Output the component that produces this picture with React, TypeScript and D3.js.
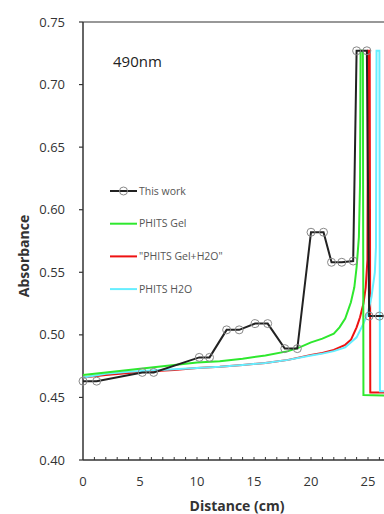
import React from 'react';
import * as d3 from 'd3';

// measured data ("This work")
const workX = [0, 1.2, 5.2, 6.2, 10.2, 11.1, 12.6, 13.7, 15.1, 16.2, 17.7, 18.8, 20.0, 21.1, 21.8, 22.7, 23.7, 24.0, 24.9, 25.1, 26.0, 27.0];
const workY = [0.463, 0.463, 0.470, 0.470, 0.482, 0.482, 0.504, 0.504, 0.509, 0.509, 0.489, 0.489, 0.582, 0.582, 0.558, 0.558, 0.559, 0.727, 0.727, 0.515, 0.515, 0.515];

// PHITS Gel
const gelX = [0, 2, 4, 6, 8, 10, 12, 14, 16, 18, 19, 20, 21, 22, 22.5, 23, 23.5, 23.8, 24.0, 24.2, 24.3, 24.35, 24.55, 24.6, 29];
const gelY = [0.468, 0.470, 0.472, 0.474, 0.476, 0.478, 0.479, 0.481, 0.4835, 0.487, 0.490, 0.494, 0.497, 0.501, 0.506, 0.513, 0.526, 0.538, 0.554, 0.578, 0.62, 0.727, 0.727, 0.452, 0.451];

// "PHITS Gel+H2O"
const gelWaterX = [0, 2, 4, 6, 8, 10, 12, 14, 16, 18, 20, 21, 22, 23, 23.5, 24, 24.3, 24.6, 24.8, 24.95, 25.0, 25.15, 25.2, 29];
const gelWaterY = [0.466, 0.468, 0.4695, 0.471, 0.472, 0.4735, 0.4745, 0.476, 0.4775, 0.480, 0.484, 0.4855, 0.488, 0.492, 0.496, 0.506, 0.514, 0.525, 0.538, 0.56, 0.727, 0.727, 0.454, 0.454];

// PHITS H2O
const waterX = [0, 2, 4, 6, 8, 10, 12, 14, 16, 18, 20, 21, 22, 23, 24, 24.6, 25.0, 25.3, 25.6, 25.7, 25.75, 26.0, 26.05, 29];
const waterY = [0.466, 0.469, 0.4705, 0.4715, 0.4725, 0.4735, 0.4745, 0.476, 0.4775, 0.480, 0.4835, 0.485, 0.487, 0.490, 0.498, 0.509, 0.518, 0.530, 0.550, 0.570, 0.727, 0.727, 0.455, 0.455];

const yTicks = [0.40, 0.45, 0.50, 0.55, 0.60, 0.65, 0.70, 0.75];
const xTicks = [0, 5, 10, 15, 20, 25];
const legendNames = ['This work', 'PHITS Gel', '"PHITS Gel+H2O"', 'PHITS H2O'];
const legendColors = ['#222', '#2ee82e', '#ee1111', '#66eeff'];

const zip = (xs: number[], ys: number[]) => xs.map((x, i) => [x, ys[i]] as [number, number]);

export default function App() {
    const width = 384, height = 514;
    const x = d3.scaleLinear().domain([0, 30]).range([83, 425]);
    const y = d3.scaleLinear().domain([0.40, 0.75]).range([460, 22]);

    const line = d3.line<[number, number]>()
        .x(d => x(d[0]))
        .y(d => y(d[1]));

    const work = zip(workX, workY);
    const font = '"Open Sans", "Noto Sans", sans-serif';

    return (
        <svg width={width} height={height} style={{position: 'absolute', left: 0, top: 0, background: '#fff'}}
             fontFamily={font}>
            {/* frame */}
            <line x1={x(0)} x2={width} y1={y(0.75)} y2={y(0.75)} stroke="#333" strokeWidth={1.2}/>
            <line x1={x(0)} x2={x(0)} y1={y(0.75)} y2={y(0.40)} stroke="#333" strokeWidth={1.5}/>
            <line x1={x(0)} x2={width} y1={y(0.40)} y2={y(0.40)} stroke="#333" strokeWidth={1.5}/>

            {/* y ticks */}
            {yTicks.map(t => (
                <g key={t}>
                    <line x1={x(0) - 4} x2={x(0)} y1={y(t)} y2={y(t)} stroke="#333" strokeWidth={1.2}/>
                    <text x={65} y={y(t)} dy="0.35em" textAnchor="end" fontSize={13} fill="#333">{t.toFixed(2)}</text>
                </g>
            ))}

            {/* x minor ticks */}
            {d3.range(1, 28).map(t => (
                <line key={t} x1={x(t)} x2={x(t)} y1={y(0.40)} y2={y(0.40) - 3} stroke="#333" strokeWidth={1}/>
            ))}
            {xTicks.map(t => (
                <text key={t} x={x(t)} y={481} dy="0.35em" textAnchor="middle" fontSize={13} fill="#333">{t}</text>
            ))}

            {/* series */}
            <path d={line(zip(gelWaterX, gelWaterY)) || ''} fill="none" stroke={legendColors[2]} strokeWidth={2}/>
            <path d={line(zip(waterX, waterY)) || ''} fill="none" stroke={legendColors[3]} strokeWidth={2}/>
            <path d={line(zip(gelX, gelY)) || ''} fill="none" stroke={legendColors[1]} strokeWidth={2}/>
            <path d={line(work) || ''} fill="none" stroke={legendColors[0]} strokeWidth={2}/>
            {work.map((d, i) => (
                <circle key={i} cx={x(d[0])} cy={y(d[1])} r={4} fill="none" stroke="#888" strokeWidth={1}/>
            ))}

            {/* legend */}
            {legendNames.map((name, i) => {
                const ly = 191 + i * 32.7;
                return (
                    <g key={name}>
                        <line x1={110} x2={137} y1={ly} y2={ly} stroke={legendColors[i]} strokeWidth={2}/>
                        {i === 0 && <circle cx={123.5} cy={ly} r={4} fill="none" stroke="#888" strokeWidth={1}/>}
                        <text x={139} y={ly} dy="0.35em" fontSize={10.5} fill="#555">{name}</text>
                    </g>
                );
            })}

            <text x={113} y={67} fontSize={15} fill="#222">490nm</text>

            <text x={237} y={506} dy="0.35em" textAnchor="middle" fontSize={14} fontWeight="bold" fill="#333">Distance (cm)</text>
            <text transform={`translate(24, 256) rotate(-90)`} dy="0.35em" textAnchor="middle" fontSize={14}
                  fontWeight="bold" fill="#333">Absorbance</text>
        </svg>
    );
}
